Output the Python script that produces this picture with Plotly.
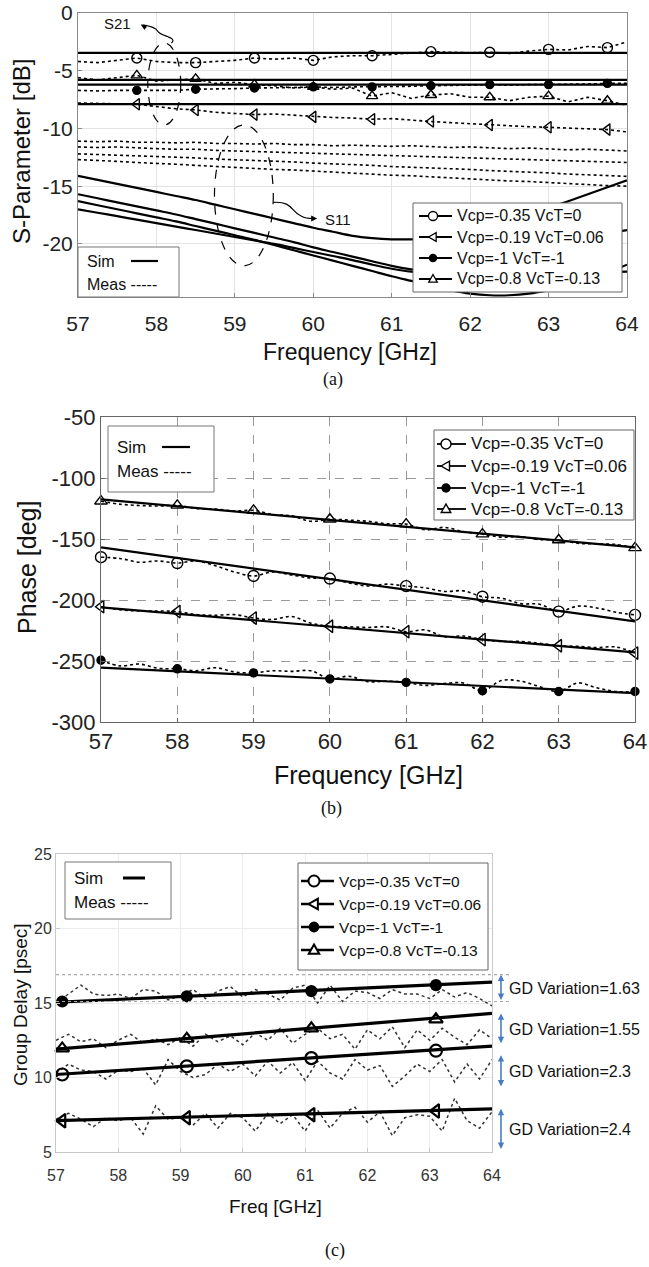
import plotly.graph_objects as go

W, H = 649, 1267
def px(x): return x / W
def py(y): return 1 - y / H

SANS = "Liberation Sans, Arial, sans-serif"
SERIF = "Liberation Serif, Times New Roman, serif"

series_names = ["Vcp=-0.35 VcT=0", "Vcp=-0.19 VcT=0.06", "Vcp=-1 VcT=-1", "Vcp=-0.8 VcT=-0.13"]
open_syms = ["circle-open", "triangle-left-open", "circle", "triangle-up-open"]
freq_ticks = [57, 58, 59, 60, 61, 62, 63, 64]

# ---------------- (a) S-parameters ----------------
f_a = [57, 57.25, 57.5, 57.75, 58, 58.25, 58.5, 58.75, 59, 59.25, 59.5, 59.75, 60, 60.25, 60.5,
       60.75, 61, 61.25, 61.5, 61.75, 62, 62.25, 62.5, 62.75, 63, 63.25, 63.5, 63.75, 64]
f_sim_a = [57, 64]
s21_sim = [[-3.45, -3.45], [-7.9, -7.9], [-6.2, -6.2], [-5.8, -5.8]]
s21_meas_circ = [-4.2, -4.3, -4.1, -3.9, -4.2, -4.3, -4.3, -4.2, -4.1, -3.9, -4.0, -3.9, -4.1, -3.8, -3.7,
                 -3.7, -3.6, -3.5, -3.35, -3.4, -3.45, -3.4, -3.5, -3.3, -3.15, -3.2, -2.9, -3.0, -2.5]
s21_meas_ltri = [-7.8, -7.85, -7.9, -7.9, -8.1, -8.3, -8.4, -8.6, -8.7, -8.8, -8.75, -8.85, -9.0, -9.05, -9.1,
                 -9.2, -9.15, -9.3, -9.4, -9.5, -9.6, -9.7, -9.75, -9.85, -9.9, -9.95, -10.05, -10.1, -10.3]
s21_meas_dot = [-6.7, -6.75, -6.7, -6.7, -6.65, -6.7, -6.6, -6.6, -6.55, -6.5, -6.5, -6.45, -6.4, -6.45, -6.4,
                -6.4, -6.35, -6.35, -6.3, -6.3, -6.25, -6.2, -6.25, -6.2, -6.2, -6.15, -6.15, -6.1, -6.1]
s21_meas_utri = [-5.6, -5.8, -5.6, -5.4, -5.9, -5.8, -5.7, -6.1, -6.0, -6.2, -6.3, -6.5, -6.4, -6.6, -6.5,
                 -7.2, -6.9, -7.4, -7.1, -7.0, -7.3, -7.3, -7.6, -7.3, -7.2, -7.7, -7.3, -7.6, -8.0]
s11_meas_1 = [-11.1, -11.15, -11.1, -11.2, -11.2, -11.25, -11.2, -11.3, -11.3, -11.35, -11.3, -11.4, -11.4, -11.5, -11.45,
              -11.5, -11.55, -11.5, -11.6, -11.65, -11.6, -11.7, -11.75, -11.7, -11.8, -11.85, -11.8, -11.9, -11.95]
s11_meas_2 = [-11.6, -11.65, -11.6, -11.7, -11.75, -11.8, -11.8, -11.9, -11.95, -12.0, -12.0, -12.1, -12.15, -12.2, -12.2,
              -12.3, -12.35, -12.35, -12.45, -12.5, -12.5, -12.6, -12.65, -12.65, -12.75, -12.8, -12.8, -12.9, -12.95]
s11_meas_3 = [-12.2, -12.25, -12.3, -12.35, -12.45, -12.5, -12.55, -12.65, -12.7, -12.8, -12.85, -12.9, -13.0, -13.05, -13.15,
              -13.2, -13.3, -13.35, -13.4, -13.5, -13.55, -13.65, -13.7, -13.8, -13.85, -13.95, -14.0, -14.05, -14.15]
s11_meas_4 = [-12.7, -12.75, -12.85, -12.95, -13.0, -13.1, -13.2, -13.3, -13.35, -13.45, -13.55, -13.6, -13.7, -13.8, -13.85,
              -13.95, -14.05, -14.1, -14.2, -14.3, -14.35, -14.45, -14.55, -14.6, -14.7, -14.8, -14.85, -14.95, -15.0]
s11_sim_A = [-14.1, -14.45, -14.8, -15.15, -15.5, -15.85, -16.2, -16.6, -17.0, -17.4, -17.8, -18.2, -18.6, -18.95, -19.3,
             -19.5, -19.6, -19.6, -19.5, -19.3, -19.0, -18.6, -18.1, -17.5, -16.9, -16.3, -15.7, -15.1, -14.5]
s11_sim_B = [-15.7, -16.05, -16.4, -16.75, -17.1, -17.45, -17.85, -18.25, -18.65, -19.05, -19.45, -19.85, -20.3, -20.7, -21.1,
             -21.5, -21.9, -22.2, -22.4, -22.45, -22.35, -22.1, -21.7, -21.2, -20.6, -20.0, -19.5, -19.1, -18.8]
s11_sim_C = [-17.0, -17.3, -17.6, -17.9, -18.2, -18.5, -18.8, -19.1, -19.4, -19.7, -20.0, -20.35, -20.7, -21.05, -21.4,
             -21.8, -22.15, -22.4, -22.5, -22.55, -22.55, -22.55, -22.5, -22.5, -22.5, -22.5, -22.5, -22.45, -22.4]
s11_sim_D = [-16.3, -16.65, -17.0, -17.35, -17.7, -18.05, -18.45, -18.85, -19.25, -19.65, -20.1, -20.55, -21.0, -21.45, -21.9,
             -22.35, -22.8, -23.2, -23.6, -24.0, -24.3, -24.45, -24.45, -24.3, -24.0, -23.6, -23.1, -22.5, -21.8]
mark_idx_a = [3, 6, 9, 12, 15, 18, 21, 24, 27]
yt_a = [0, -5, -10, -15, -20]
yt_a_text = ["0", "-5", "-10", "-15", "-20"]

# ---------------- (b) Phase ----------------
f_b = f_a
f_sim_b = [57, 64]
ph_sim = [[-156.8, -217.6], [-206.0, -243.0], [-255.5, -276.4], [-117.6, -156.8]]
ph_meas_circ = [-164.9, -166, -169, -168, -169.7, -168, -172, -177, -180.3, -177, -179.5, -182, -182.4, -186, -188.5,
                -187, -188.6, -190, -193, -192.5, -197.3, -198.5, -203, -203.5, -209.5, -205, -206.5, -210, -212.2]
ph_meas_ltri = [-205.5, -208, -209, -209, -209.5, -212, -212.5, -212, -214.8, -216, -213.5, -219, -221.5, -222, -222.5,
                -222, -226, -224.5, -230, -229.5, -232.5, -234, -234, -235.5, -237.5, -238, -239, -238.5, -243.5]
ph_meas_dot = [-249.4, -254, -252.5, -256, -256.4, -258, -255.5, -259, -259.7, -258, -258.5, -258, -264.7, -262.5, -267,
               -266.5, -267.5, -270, -268.5, -268, -274.4, -266, -266.5, -271, -275, -268, -272, -275, -275]
ph_meas_utri = [-119, -121.5, -122.5, -123, -122.4, -125, -125.5, -127, -126.5, -130, -131, -135.5, -133.8, -134.5, -135.5,
                -137.5, -137.8, -142.5, -140.5, -144, -146, -148.5, -148, -150.5, -150.8, -153.5, -154, -154.5, -157.3]
mark_idx_b = [0, 4, 8, 12, 16, 20, 24, 28]
yt_b = [-50, -100, -150, -200, -250, -300]
yt_b_text = ["-50", "-100", "-150", "-200", "-250", "-300"]

# ---------------- (c) Group delay ----------------
f_c = [57.0, 57.2, 57.4, 57.6, 57.8, 58.0, 58.2, 58.4, 58.6, 58.8, 59.0, 59.2, 59.4, 59.6, 59.8, 60.0, 60.2, 60.4,
       60.6, 60.8, 61.0, 61.2, 61.4, 61.6, 61.8, 62.0, 62.2, 62.4, 62.6, 62.8, 63.0, 63.2, 63.4, 63.6, 63.8, 64.0]
f_sim_c = [57, 64]
gd_sim = [[10.2, 12.1], [7.1, 7.9], [15.05, 16.4], [11.9, 14.3]]
f_mark_c = [57.1, 59.1, 61.1, 63.1]
gd_marks = [[10.2, 10.75, 11.3, 11.8], [7.1, 7.3, 7.5, 7.75], [15.1, 15.45, 15.8, 16.2], [11.95, 12.6, 13.3, 13.9]]
gd_meas_circ = [10.3, 10.9, 10.5, 10.4, 9.9, 10.5, 10.4, 10.6, 9.5, 11.2, 10.4, 10.0, 10.2, 10.9, 10.4, 10.9, 10.1, 11.1,
                10.3, 11.0, 9.8, 11.1, 10.3, 9.9, 11.2, 10.5, 10.8, 9.4, 10.1, 10.9, 10.4, 11.2, 9.7, 10.9, 9.9, 11.2]
gd_meas_ltri = [7.2, 7.6, 7.2, 6.7, 7.3, 7.1, 7.3, 6.2, 8.1, 7.2, 7.3, 6.8, 7.6, 6.6, 7.6, 7.3, 6.4, 7.6,
                6.9, 7.5, 6.4, 7.8, 6.6, 7.6, 8.0, 7.0, 7.7, 6.1, 7.3, 7.5, 7.4, 6.4, 8.6, 7.1, 6.6, 7.7]
gd_meas_dot = [15.0, 15.6, 16.2, 15.6, 15.5, 15.6, 15.3, 15.9, 15.8, 15.2, 15.5, 15.9, 15.3, 15.8, 16.1, 15.4, 15.9, 15.6,
               15.2, 16.0, 16.2, 15.0, 16.2, 15.1, 15.8, 15.7, 15.3, 15.9, 15.6, 15.6, 15.3, 15.9, 15.4, 15.7, 15.3, 14.8]
gd_meas_utri = [12.5, 12.9, 12.4, 12.6, 12.0, 12.5, 12.9, 12.3, 12.6, 12.2, 12.7, 12.1, 12.9, 12.4, 12.8, 12.2, 13.0, 12.5,
                13.3, 12.3, 12.9, 13.3, 12.6, 12.9, 11.9, 13.2, 12.6, 13.4, 12.0, 13.2, 12.5, 13.3, 12.7, 12.2, 13.2, 12.6]
gd_var_labels = ["GD Variation=1.63", "GD Variation=1.55", "GD Variation=2.3", "GD Variation=2.4"]
gd_var_top = [16.9, 14.3, 11.5, 7.9]
gd_var_bot = [15.1, 12.2, 9.3, 5.1]
gd_guides = [16.9, 15.1]

fig = go.Figure()
BLK = "black"

def add(x, y, xa, ya, **kw):
    fig.add_trace(go.Scatter(x=x, y=y, xaxis=xa, yaxis=ya, showlegend=False, hoverinfo="skip", **kw))

# (a) traces
for s in s21_sim:
    add(f_sim_a, s, "x", "y", mode="lines", line=dict(color=BLK, width=2.2))
for s in [s11_sim_A, s11_sim_B, s11_sim_C, s11_sim_D]:
    add(f_a, s, "x", "y", mode="lines", line=dict(color=BLK, width=2.2, shape="spline"))
for s in [s11_meas_1, s11_meas_2, s11_meas_3, s11_meas_4]:
    add(f_a, s, "x", "y", mode="lines", line=dict(color=BLK, width=1.6, dash="dot"))
for s, sym in zip([s21_meas_circ, s21_meas_ltri, s21_meas_dot, s21_meas_utri], open_syms):
    add(f_a, s, "x", "y", mode="lines", line=dict(color=BLK, width=1.6, dash="dot"))
    add([f_a[i] for i in mark_idx_a], [s[i] for i in mark_idx_a], "x", "y", mode="markers", cliponaxis=False,
        marker=dict(symbol=sym, size=8 if sym == "circle" else 10, color=BLK, line=dict(color=BLK, width=1.4)))

# (b) traces
for s in ph_sim:
    add(f_sim_b, s, "x2", "y2", mode="lines", line=dict(color=BLK, width=2.2))
for s, sym in zip([ph_meas_circ, ph_meas_ltri, ph_meas_dot, ph_meas_utri], open_syms):
    add(f_b, s, "x2", "y2", mode="lines", line=dict(color=BLK, width=1.6, dash="dot", shape="spline"))
    add([f_b[i] for i in mark_idx_b], [s[i] for i in mark_idx_b], "x2", "y2", mode="markers", cliponaxis=False,
        marker=dict(symbol=sym, size=8 if sym == "circle" else 11, color=BLK, line=dict(color=BLK, width=1.4)))

# (c) traces
for s in [gd_meas_circ, gd_meas_ltri, gd_meas_dot, gd_meas_utri]:
    add(f_c, s, "x3", "y3", mode="lines", line=dict(color="#333", width=1.5, dash="dot"))
for s, m, sym in zip(gd_sim, gd_marks, open_syms):
    add(f_sim_c, s, "x3", "y3", mode="lines", line=dict(color=BLK, width=3.2))
    add(f_mark_c, m, "x3", "y3", mode="markers", cliponaxis=False,
        marker=dict(symbol=sym, size=10 if sym == "circle" else 12, color=BLK, line=dict(color=BLK, width=2.2)))

def xdom(l, r): return [px(l), px(r)]
def ydom(t, b): return [py(b), py(t)]

axis_common = dict(showline=True, mirror=True, ticks="inside", ticklen=4, automargin=False, zeroline=False)

C_TOP, C_BOT = 854, 1152
C_PPU = (C_BOT - C_TOP) / 20.0

fig.update_layout(
    width=W, height=H, margin=dict(l=0, r=0, t=0, b=0),
    paper_bgcolor="white", plot_bgcolor="white", showlegend=False,
    xaxis=dict(domain=xdom(78, 627), range=[57, 64], tickvals=freq_ticks, anchor="y",
               linecolor="#8a8a8a", gridcolor="#e3e3e3", tickcolor="#8a8a8a", ticklabelstandoff=8,
               tickfont=dict(family=SANS, size=21, color="#222"), **axis_common),
    yaxis=dict(domain=ydom(13, 297), range=[-24.6, 0], tickvals=yt_a, ticktext=yt_a_text, anchor="x",
               linecolor="#8a8a8a", gridcolor="#e3e3e3", tickcolor="#8a8a8a", ticklabeloverflow="allow",
               tickfont=dict(family=SANS, size=21, color="#222"), **axis_common),
    xaxis2=dict(domain=xdom(101, 635), range=[57, 64], tickvals=freq_ticks, anchor="y2",
                linecolor="#666", gridcolor="#9a9a9a", griddash="dash", gridwidth=1, tickcolor="#666",
                tickfont=dict(family=SANS, size=22, color="#222"), **axis_common),
    yaxis2=dict(domain=ydom(417, 722), range=[-300, -50], tickvals=yt_b, ticktext=yt_b_text,
                anchor="x2", linecolor="#666", gridcolor="#9a9a9a", griddash="dash", gridwidth=1, tickcolor="#666",
                tickfont=dict(family=SANS, size=22, color="#222"), **axis_common),
    xaxis3=dict(domain=xdom(56, 492), range=[57, 64], tickvals=freq_ticks, anchor="y3",
                linecolor="#c8c8c8", gridcolor="#ececec", tickcolor="#c8c8c8", ticklabelstandoff=9,
                tickfont=dict(family=SANS, size=16, color="#333"), **axis_common),
    yaxis3=dict(domain=ydom(C_TOP, C_BOT), range=[5, 25], tickvals=[5, 10, 15, 20, 25], anchor="x3",
                linecolor="#c8c8c8", gridcolor="#ececec", tickcolor="#c8c8c8",
                tickfont=dict(family=SANS, size=16, color="#333"), **axis_common),
)

ann = []
shapes = []

def text(x, y, s, size, family=SANS, xanchor="center", color="#111", angle=0):
    ann.append(dict(x=px(x), y=py(y), xref="paper", yref="paper", text=s, showarrow=False,
                    xanchor=xanchor, yanchor="middle", textangle=angle,
                    font=dict(family=family, size=size, color=color)))

def hline_px(x0, x1, y, color, width):
    shapes.append(dict(type="line", xref="paper", yref="paper", x0=px(x0), x1=px(x1), y0=py(y), y1=py(y),
                       line=dict(color=color, width=width), layer="above"))

def marker_px(sym, cx, cy, r, lw):
    base = dict(xref="paper", yref="paper", xsizemode="pixel", ysizemode="pixel",
                xanchor=px(cx), yanchor=py(cy), line=dict(color=BLK, width=lw), layer="above")
    if sym in ("circle-open", "circle"):
        rr = r * 0.8 if sym == "circle" else r
        base.update(type="circle", x0=-rr, x1=rr, y0=-rr, y1=rr,
                    fillcolor=BLK if sym == "circle" else "white")
    elif sym == "triangle-up-open":
        base.update(type="path", path=f"M 0,{r} L {r*0.95},{-r*0.7} L {-r*0.95},{-r*0.7} Z", fillcolor="white")
    else:
        base.update(type="path", path=f"M {-r},0 L {r*0.7},{r*0.95} L {r*0.7},{-r*0.95} Z", fillcolor="white")
    shapes.append(base)

def box_px(l, t, r, b, color="#666"):
    shapes.append(dict(type="rect", xref="paper", yref="paper", x0=px(l), x1=px(r), y0=py(b), y1=py(t),
                       line=dict(color=color, width=1), fillcolor="white", layer="above"))

def legend_px(l, t, r, b, ys, lx0, lx1, mx, tx, size, lw, mr, mlw):
    box_px(l, t, r, b)
    for name, sym, y in zip(series_names, open_syms, ys):
        hline_px(lx0, lx1, y, BLK, lw)
        marker_px(sym, mx, y, mr, mlw)
        text(tx, y, name, size, xanchor="left")

def simbox(l, t, r, b, ysim, ymeas, lx1, lx2, size, lw):
    box_px(l, t, r, b, "#777")
    text(l + 7, ysim, "Sim", size, xanchor="left")
    text(l + 7, ymeas, "Meas -----", size, xanchor="left")
    hline_px(lx1, lx2, ysim, BLK, lw)

# legends
legend_px(413, 203, 622, 292, [216, 237, 258, 279], 419, 452, 433, 455, 16, 1.8, 4.5, 1.3)
legend_px(434, 430, 634, 520, [444, 466, 488, 509], 437, 466, 446, 469, 17, 1.8, 5, 1.4)
legend_px(298, 863, 488, 970, [881, 904, 927, 950], 301, 334, 314, 337, 15.5, 2.6, 5.5, 2.0)

# Sim / Meas boxes
simbox(78, 247, 179, 297, 261, 284, 131, 158, 16, 2.2)
simbox(108, 426, 214, 492, 447, 471, 162, 190, 17, 2.2)
simbox(65, 862, 171, 919, 878, 902, 123, 145, 17, 3)

# axis titles / captions
text(350, 352, "Frequency [GHz]", 23)
text(333, 379, "(a)", 18, SERIF)
text(22, 152, "S-Parameter [dB]", 24, angle=-90)
text(368, 775, "Frequency [GHz]", 25)
text(331, 808, "(b)", 18, SERIF)
text(27, 568, "Phase [deg]", 25, angle=-90)
text(275, 1206, "Freq [GHz]", 19)
text(335, 1250, "(c)", 18, SERIF)
text(20, 1005, "Group Delay [psec]", 19, angle=-90)

# (a) ellipses and curly arrows
shapes.append(dict(type="circle", xref="x", yref="y", x0=57.89, x1=58.31, y0=-9.7, y1=-2.6,
                   line=dict(color=BLK, width=1.2, dash="dash")))
shapes.append(dict(type="circle", xref="x", yref="y", x0=58.74, x1=59.49, y0=-21.9, y1=-9.7,
                   line=dict(color=BLK, width=1.2, dash="dash")))
shapes.append(dict(type="path", xref="x", yref="y",
                   path="M 58.19,-2.6 C 58.28,-2.1 58.05,-2.0 58.02,-1.6 C 57.99,-1.25 57.9,-1.1 57.83,-1.05",
                   line=dict(color=BLK, width=1.2)))
ann.append(dict(x=57.8, y=-1.0, xref="x", yref="y", ax=7, ay=4, text="", showarrow=True,
                arrowhead=2, arrowsize=1, arrowwidth=1.2, arrowcolor=BLK))
shapes.append(dict(type="path", xref="x", yref="y",
                   path="M 59.49,-16.4 C 59.75,-16.3 59.7,-17.2 59.85,-17.6 C 59.9,-17.8 59.95,-17.8 60.0,-17.8",
                   line=dict(color=BLK, width=1.2)))
ann.append(dict(x=60.05, y=-17.8, xref="x", yref="y", ax=-7, ay=0, text="", showarrow=True,
                arrowhead=2, arrowsize=1, arrowwidth=1.2, arrowcolor=BLK))
ann.append(dict(x=57.5, y=-0.9, xref="x", yref="y", text="S21", showarrow=False,
                font=dict(family=SANS, size=15, color="#111")))
ann.append(dict(x=60.32, y=-17.9, xref="x", yref="y", text="S11", showarrow=False,
                font=dict(family=SANS, size=15, color="#111")))

# (c) GD guide lines and variation arrows
for g in gd_guides:
    shapes.append(dict(type="line", xref="paper", yref="y3", x0=px(56), x1=px(512), y0=g, y1=g,
                       line=dict(color="#a9a9a9", width=1.2, dash="dot")))
for lab, t, b in zip(gd_var_labels, gd_var_top, gd_var_bot):
    ann.append(dict(x=px(501), y=t, xref="paper", yref="y3", axref="pixel", ayref="pixel",
                    ax=0, ay=(t - b) * C_PPU, text="", showarrow=True, arrowside="end+start",
                    arrowhead=2, arrowsize=0.8, arrowwidth=1.6, arrowcolor="#4a7cc4"))
    ann.append(dict(x=px(507), y=(t + b) / 2, xref="paper", yref="y3", text=lab, showarrow=False,
                    xanchor="left", yanchor="middle", font=dict(family=SANS, size=16, color="#111")))

fig.update_layout(annotations=ann, shapes=shapes)
fig.write_html("out.html", config={"displayModeBar": False, "staticPlot": True},
               post_script="document.body.style.margin='0px';")
